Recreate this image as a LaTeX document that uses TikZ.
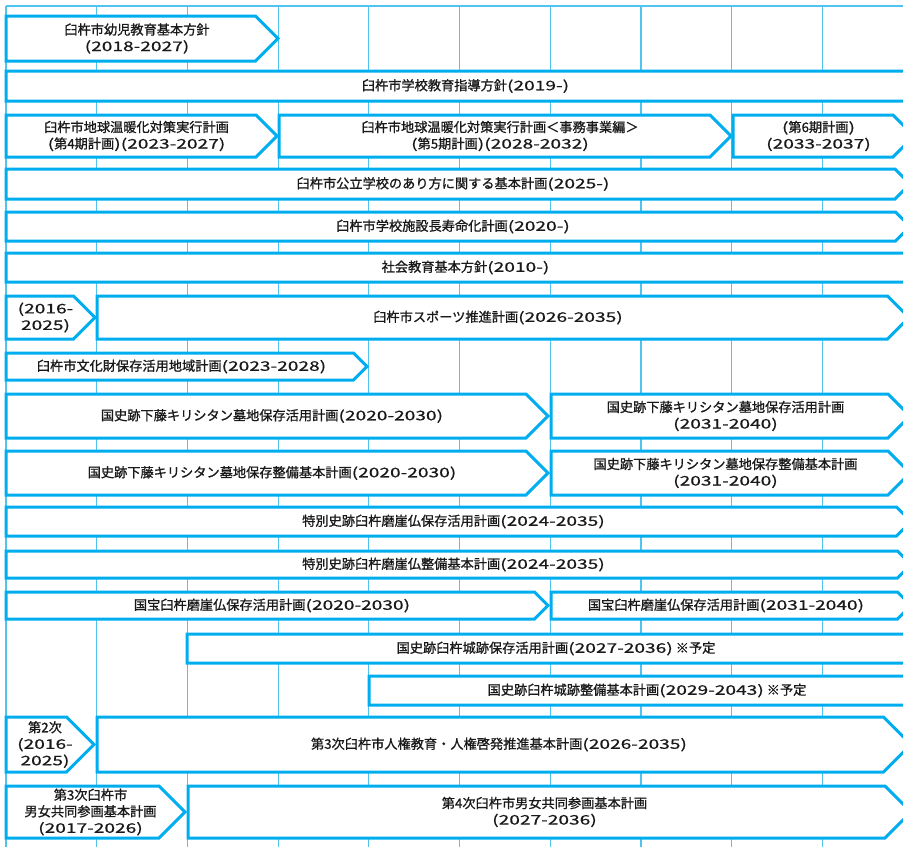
\documentclass[tikz,border=0pt]{standalone}
\usepackage{fontspec}
\setmainfont{Noto Sans CJK JP}[FakeBold=1.0]
\newfontfamily\numfont{Noto Sans CJK JP}[FakeStretch=1.45, FakeBold=0.6]
\newcommand\yr[1]{{\numfont(#1)}}
\newcommand\lp{{\numfont(}}
\newcommand\rp{{\numfont)}}
\definecolor{arrowblue}{RGB}{0,174,239}
\definecolor{gridblue}{RGB}{80,195,240}
\definecolor{txt}{RGB}{25,25,25}
\tikzset{
  arrowline/.style={draw=arrowblue, line width=3pt, fill=white, line join=miter},
  gridline/.style={draw=gridblue, line width=1.2pt},
  lbl/.style={text=txt, align=center, inner sep=0pt, font=\fontsize{13.2}{16.5}\selectfont}
}
\newcommand\planbox[6]{%
  \pgfmathsetmacro\ymid{(#4+#5)/2}%
  \pgfmathsetmacro\hh{(#5-#4)/2}%
  \draw[arrowline] (#2,#4) -- ({#3-\hh},#4) -- (#3,\ymid) -- ({#3-\hh},#5) -- (#2,#5) -- cycle;
  \node[lbl] (#1) at ({(#2+#3)/2-5},\ymid) {#6};
}
\begin{document}
\begin{tikzpicture}[x=1pt, y=-1pt]
\useasboundingbox (0,0) rectangle (903,847);
\clip (0,0) rectangle (903,847);
% grid
\draw[gridline] (6,6) -- (903,6);
\foreach \k in {0,...,9}{
  \draw[gridline] ({6+90.7*\k},6) -- ({6+90.7*\k},847);
}
% rows
\planbox{r1}{6}{278}{16}{61}{臼杵市幼児教育基本方針\\\yr{2018-2027}}
\planbox{r2}{6}{935}{71}{101}{臼杵市学校教育指導方針\yr{2019-}}
\planbox{r3a}{6}{277}{115}{157}{臼杵市地球温暖化対策実行計画\\\lp 第4期計画\rp\yr{2023-2027}}
\planbox{r3b}{279}{731}{115}{157}{臼杵市地球温暖化対策実行計画＜事務事業編＞\\\lp 第5期計画\rp\yr{2028-2032}}
\planbox{r3c}{733}{914}{115}{157}{\lp 第6期計画\rp\\\yr{2033-2037}}
\planbox{r4}{6}{910}{169}{199}{臼杵市公立学校のあり方に関する基本計画\yr{2025-}}
\planbox{r5}{6}{910}{212}{241}{臼杵市学校施設長寿命化計画\yr{2020-}}
\planbox{r6}{6}{935}{253}{282}{社会教育基本方針\yr{2010-}}
\planbox{r7a}{6}{95}{296}{339}{{\numfont(2016-}\\{\numfont 2025)}}
\planbox{r7b}{97}{909}{296}{339}{臼杵市スポーツ推進計画\yr{2026-2035}}
\planbox{r8}{6}{367}{353}{380}{臼杵市文化財保存活用地域計画\yr{2023-2028}}
\planbox{r9a}{6}{548}{394}{438}{国史跡下藤キリシタン墓地保存活用計画\yr{2020-2030}}
\planbox{r9b}{551}{910}{394}{438}{国史跡下藤キリシタン墓地保存活用計画\\\yr{2031-2040}}
\planbox{r10a}{6}{548}{451}{495}{国史跡下藤キリシタン墓地保存整備基本計画\yr{2020-2030}}
\planbox{r10b}{551}{910}{451}{495}{国史跡下藤キリシタン墓地保存整備基本計画\\\yr{2031-2040}}
\planbox{r11}{6}{911}{507}{536}{特別史跡臼杵磨崖仏保存活用計画\yr{2024-2035}}
\planbox{r12}{6}{911}{551}{578}{特別史跡臼杵磨崖仏整備基本計画\yr{2024-2035}}
\planbox{r13a}{6}{548}{592}{619}{国宝臼杵磨崖仏保存活用計画\yr{2020-2030}}
\planbox{r13b}{551}{911}{592}{619}{国宝臼杵磨崖仏保存活用計画\yr{2031-2040}}
\planbox{r14}{187}{935}{634}{663}{国史跡臼杵城跡保存活用計画\yr{2027-2036}\ ※予定}
\planbox{r15}{369}{935}{676}{705}{国史跡臼杵城跡整備基本計画\yr{2029-2043}\ ※予定}
\planbox{r16a}{6}{94}{717}{772}{第2次\\{\numfont(2016-}\\{\numfont 2025)}}
\planbox{r16b}{97}{911}{717}{772}{第3次臼杵市人権教育・人権啓発推進基本計画\yr{2026-2035}}
\planbox{r17a}{6}{185}{786}{838}{第3次臼杵市\\男女共同参画基本計画\\\yr{2017-2026}}
\planbox{r17b}{188}{911}{786}{838}{第4次臼杵市男女共同参画基本計画\\\yr{2027-2036}}
\end{tikzpicture}
\end{document}
